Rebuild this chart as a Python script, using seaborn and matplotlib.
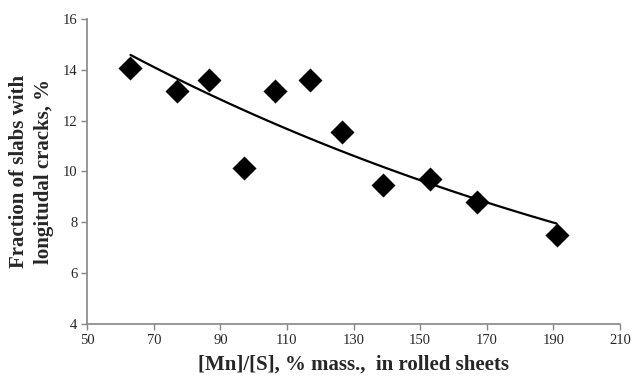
import numpy as np
import pandas as pd
import seaborn as sns
import matplotlib.pyplot as plt

# Data
mn_s = [63, 77, 86.5, 97, 106.5, 117, 126.5, 139, 153, 167, 191]
crack_frac = [14.05, 13.15, 13.6, 10.15, 13.15, 13.6, 11.55, 9.45, 9.7, 8.8, 7.5]
x_ticks = [50, 70, 90, 110, 130, 150, 170, 190, 210]
y_ticks = [4, 6, 8, 10, 12, 14, 16]

df = pd.DataFrame({'x': mn_s, 'y': crack_frac})

sns.set_style('white')
plt.rcParams['font.family'] = ['Liberation Serif', 'DejaVu Serif']

fig = plt.figure(figsize=(6.41, 3.77), dpi=100)
ax = fig.add_axes([0.136, 0.141, 0.831, 0.809])

# exponential trend line (ln y linear in x), like an Excel exponential trendline
b, ln_a = np.polyfit(df['x'], np.log(df['y']), 1)
xs = np.linspace(df['x'].min(), df['x'].max(), 100)
trend = pd.DataFrame({'x': xs, 'y': np.exp(ln_a + b * xs)})
sns.lineplot(data=trend, x='x', y='y', ax=ax, color='black', linewidth=1.6)

sns.scatterplot(data=df, x='x', y='y', ax=ax, marker='D', s=150,
                color='black', edgecolor='black', linewidth=0, zorder=3)

ax.set_xlim(50, 210)
ax.set_ylim(4, 16)
ax.set_xticks(x_ticks)
ax.set_yticks(y_ticks)
ax.tick_params(labelsize=10.5, length=4, width=1, color='#868686', direction='out',
               bottom=True, left=True, pad=3)
for side in ['top', 'right']:
    ax.spines[side].set_visible(False)
for side in ['left', 'bottom']:
    ax.spines[side].set_color('#868686')
    ax.spines[side].set_linewidth(1.2)

ax.set_xlabel('[Mn]/[S], % mass.,  in rolled sheets', fontsize=15, fontweight='bold', labelpad=6)
ax.set_ylabel('Fraction of slabs with\nlongitudal cracks, %', fontsize=15, fontweight='bold',
              labelpad=6, linespacing=1.35)

fig.savefig('out.png', dpi=100)
